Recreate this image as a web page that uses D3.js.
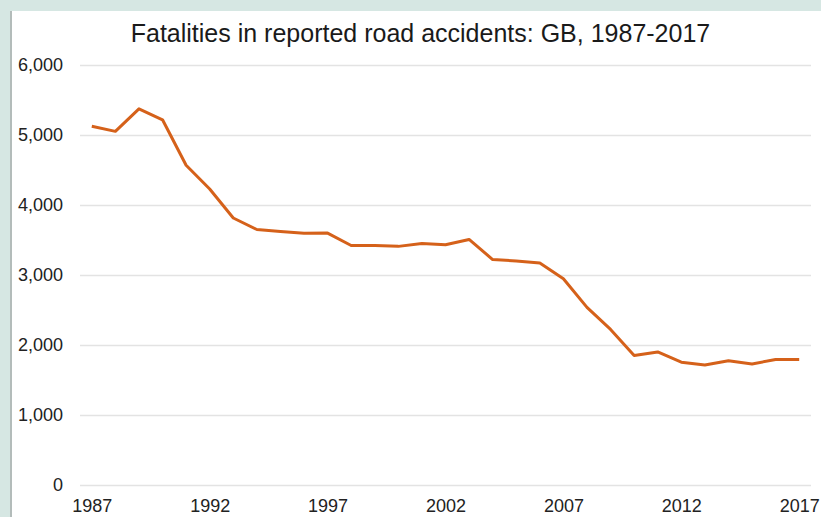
<!DOCTYPE html>
<html>
<head>
<meta charset="utf-8">
<script src="https://cdn.jsdelivr.net/npm/d3@7"></script>
<style>
  html, body { margin: 0; padding: 0; background: #d6e7e3; }
  svg { display: block; font-family: "Liberation Sans", Arial, sans-serif; }
</style>
</head>
<body>
<script>
// data
const years = d3.range(1987, 2018)
const deaths = [5125, 5052, 5373, 5217, 4568, 4229, 3814, 3650, 3621, 3598,
                3599, 3421, 3423, 3409, 3450, 3431, 3508, 3221, 3201, 3172,
                2946, 2538, 2222, 1850, 1901, 1754, 1713, 1775, 1730, 1792, 1793]
const yTicks = [0, 1000, 2000, 3000, 4000, 5000, 6000]
const xTickYears = [1987, 1992, 1997, 2002, 2007, 2012, 2017]

const w = 821
const h = 517

const svg = d3.select('body')
  .append('svg')
  .attr('width', w)
  .attr('height', h)

// backdrop: teal frame, grey rule, white panel
svg.append('rect').attr('width', w).attr('height', h).attr('fill', '#d6e7e3')
svg.append('rect').attr('x', 12).attr('y', 11).attr('width', w - 12).attr('height', h - 11).attr('fill', '#fff')
svg.append('rect').attr('x', 10).attr('y', 11).attr('width', 2).attr('height', h - 11).attr('fill', '#b3bcba')

// scales
const xScale = d3.scalePoint().domain(years).range([80, 811]).padding(0.5)
const yScale = d3.scaleLinear().domain([0, 6000]).range([485, 65])

// title
svg.append('text')
  .attr('x', 420.5)
  .attr('y', 42)
  .attr('text-anchor', 'middle')
  .style('font-size', '25px')
  .style('fill', '#1a1a1a')
  .text('Fatalities in reported road accidents: GB, 1987-2017')

// y gridlines + labels
const yAxis = d3.axisLeft(yScale)
  .tickValues(yTicks)
  .tickSize(-(811 - 80))
  .tickPadding(17)
  .tickFormat(d3.format(','))

svg.append('g')
  .attr('transform', 'translate(80,0)')
  .call(yAxis)
  .call(g => g.select('.domain').remove())
  .call(g => g.selectAll('line').attr('stroke', '#e3e3e3').attr('stroke-width', 1.5))
  .call(g => g.selectAll('text').style('font-size', '18px').style('fill', '#222').style('font-family', '"Liberation Sans", Arial, sans-serif'))

// x labels
const xAxis = d3.axisBottom(xScale)
  .tickValues(xTickYears)
  .tickSize(0)
  .tickPadding(14)

svg.append('g')
  .attr('transform', 'translate(0,485)')
  .call(xAxis)
  .call(g => g.select('.domain').remove())
  .call(g => g.selectAll('text').style('font-size', '18px').style('fill', '#222').style('font-family', '"Liberation Sans", Arial, sans-serif'))

// line
const line = d3.line()
  .x((d, i) => xScale(years[i]))
  .y(d => yScale(d))

svg.append('path')
  .datum(deaths)
  .attr('d', line)
  .attr('fill', 'none')
  .attr('stroke', '#d5611a')
  .attr('stroke-width', 3)
  .attr('stroke-linejoin', 'round')
</script>
</body>
</html>
